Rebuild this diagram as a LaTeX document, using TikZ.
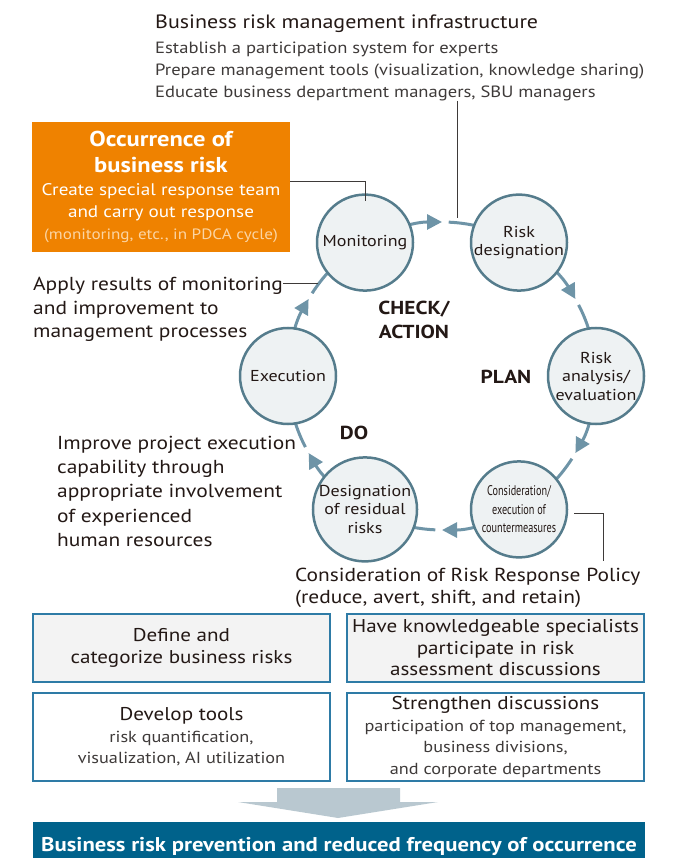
\documentclass[tikz,border=0pt]{standalone}
\usepackage{fontspec}
\setmainfont{PT Sans}[FakeStretch=1.14]
\newfontfamily\condfont[FakeStretch=0.73]{PT Sans}
\usetikzlibrary{arrows.meta,calc,backgrounds}
\definecolor{riskorange}{HTML}{EF8200}
\definecolor{palenote}{HTML}{FBD5A4}
\definecolor{ringline}{HTML}{557C8C}
\definecolor{ringfill}{HTML}{EEF2F3}
\definecolor{cycarrow}{HTML}{6E94A7}
\definecolor{inktext}{HTML}{231815}
\definecolor{subtext}{HTML}{3E3A39}
\definecolor{boxline}{HTML}{2E7BA6}
\definecolor{boxfill}{HTML}{F3F3F3}
\definecolor{blockarrow}{HTML}{B9C8D0}
\definecolor{bannerblue}{HTML}{00628B}
\newcommand{\headfont}{\bfseries\fontsize{21.5}{26}\selectfont}
\newcommand{\subfont}{\color{subtext}\fontsize{16}{21}\selectfont}
\begin{document}
\begin{tikzpicture}[x=1pt, y=1pt,
    phase/.style={circle, draw=ringline, fill=ringfill, line width=2.5pt, minimum size=96pt, inner sep=0pt, align=center, text=inktext, font=\fontsize{15.8}{18.5}\selectfont},
    cyc/.style={cycarrow, line width=3pt, -{Triangle[length=15pt,width=15pt]}},
    cycrest/.style={cycarrow, line width=3pt},
    leader/.style={subtext, line width=1pt},
    note/.style={anchor=north west, inner sep=0pt, align=left, text=inktext, font=\fontsize{18.8}{23.5}\selectfont},
    stage/.style={inner sep=0pt, align=center, text=inktext, font=\bfseries\fontsize{18.8}{23.5}\selectfont},
    measure/.style={draw=boxline, line width=1.5pt, minimum width=297pt, inner sep=0pt, align=center, text=inktext, font=\fontsize{18.5}{21.5}\selectfont}]
        \useasboundingbox (0,0) rectangle (685,-858);
    % Infrastructure heading
        \node[anchor=base west, inner sep=0pt, text=inktext, font=\fontsize{19.3}{22}\selectfont] (infra) at (155,-29) {Business risk management infrastructure};
        \node[anchor=north west, inner sep=0pt, align=left, text=subtext, font=\fontsize{16.3}{22}\selectfont] (infralist) at (155,-41.5) {Establish a participation system for experts\\Prepare management tools (visualization, knowledge sharing)\\Educate business department managers, SBU managers};
    % Occurrence box
        \node[fill=riskorange, minimum width=258pt, minimum height=130pt, inner sep=0pt, align=center, text=white, font=\fontsize{16.8}{22}\selectfont] (occ) at (161,-187) {\headfont Occurrence of\\[4pt]\headfont business risk\\[1pt]Create special response team\\and carry out response\\[0pt]\color{palenote}\fontsize{15}{20}\selectfont(monitoring, etc., in PDCA cycle)};
    % Cycle of six phases
        \coordinate (ctr) at (442,-376);
        \node[phase] (mon)   at (365,-242.6) {Monitoring};
        \node[phase] (rdes)  at (519,-242.6) {Risk\\designation};
        \node[phase] (rana)  at (596,-376)   {Risk\\analysis/\\evaluation};
        \node[phase, font=\condfont\fontsize{14}{18.5}\selectfont] (cons) at (519,-509.4) {Consideration/\\execution of\\countermeasures};
        \node[phase] (resid) at (365,-509.4) {Designation\\of residual\\risks};
        \node[phase] (exec)  at (288,-376)   {Execution};
    % Gaps in the ring, where the arrows stop
        \coordinate (h1) at ($(ctr)+(87.5:154)$);
        \coordinate (h2) at ($(ctr)+(27.5:154)$);
        \coordinate (h3) at ($(ctr)+(-32.5:154)$);
        \coordinate (h4) at ($(ctr)+(-92.5:154)$);
        \coordinate (h5) at ($(ctr)+(-152.5:154)$);
        \coordinate (h6) at ($(ctr)+(147.5:154)$);
    % Ring arrows, behind the circles
        \begin{pgfonlayer}{background}
            \draw[cyc] (mon.center) arc[start angle=120, end angle=90, radius=154];
            \draw[cycrest] (h1) arc[start angle=87.5, end angle=60, radius=154];
            \draw[cyc] (rdes.center) arc[start angle=60, end angle=30, radius=154];
            \draw[cycrest] (h2) arc[start angle=27.5, end angle=0, radius=154];
            \draw[cyc] (rana.center) arc[start angle=0, end angle=-30, radius=154];
            \draw[cycrest] (h3) arc[start angle=-32.5, end angle=-60, radius=154];
            \draw[cyc] (cons.center) arc[start angle=-60, end angle=-90, radius=154];
            \draw[cycrest] (h4) arc[start angle=-92.5, end angle=-120, radius=154];
            \draw[cyc] (resid.center) arc[start angle=-120, end angle=-150, radius=154];
            \draw[cycrest] (h5) arc[start angle=-152.5, end angle=-180, radius=154];
            \draw[cyc] (exec.center) arc[start angle=180, end angle=150, radius=154];
            \draw[cycrest] (h6) arc[start angle=147.5, end angle=120, radius=154];
        \end{pgfonlayer}
    % PDCA labels
        \node[stage] (chk)  at (414,-320) {CHECK/\\ACTION};
        \node[stage] (plan) at (506,-377) {PLAN};
        \node[stage] (do)   at (354,-433) {DO};
    % Side notes
        \node[note] (apply)   at (33,-277)  {Apply results of monitoring\\and improvement to\\management processes};
        \node[note, font=\fontsize{18.8}{24.2}\selectfont] (improve) at (57,-436)  {Improve project execution\\capability through\\appropriate involvement\\of experienced\\human resources};
        \node[note, font=\fontsize{18.8}{22}\selectfont] (policy) at (295,-568) {Consideration of Risk Response Policy\\(reduce, avert, shift, and retain)};
    % Leader lines
        \coordinate (infratap) at (457,-218);
        \draw[leader] (infralist.south -| infratap) -- (infratap);
        \coordinate (occtap) at (365,-182);
        \draw[leader] (occ.east |- occtap) -- (occtap) -- ($(mon.north)+(0,-8)$);
        \coordinate (applytap) at (318,-283);
        \draw[leader] (apply.east |- applytap) -- (applytap);
        \coordinate (constap) at (603,-513);
        \coordinate (constail) at (603,-561);
        \draw[leader] ($(cons.east)+(6,-3.6)$) -- (constap) -- (constail);
    % Measures
        \node[measure, fill=boxfill, minimum height=68pt] (defn) at (181.5,-648) {Define and\\categorize business risks};
        \node[measure, fill=boxfill, minimum height=68pt] (spec) at (495.5,-648) {Have knowledgeable specialists\\participate in risk\\assessment discussions};
        \node[measure, fill=white, minimum height=88pt] (tools) at (181.5,-737) {Develop tools\\\subfont risk quantification,\\\subfont visualization, AI utilization};
        \node[measure, fill=white, minimum height=88pt] (disc) at (495.5,-737) {Strengthen discussions\\\subfont participation of top management,\\\subfont business divisions,\\\subfont and corporate departments};
    % Result
        \fill[blockarrow] (277,-788) -- (400,-788) -- (400,-802) -- (438,-802) -- (338,-818) -- (238,-802) -- (277,-802) -- cycle;
        \node[fill=bannerblue, minimum width=612pt, minimum height=36pt, inner sep=0pt, text=white, font=\bfseries\fontsize{19.9}{22}\selectfont, text height=24pt, text depth=2pt] (goal) at (339,-840) {Business risk prevention and reduced frequency of occurrence};
\end{tikzpicture}
\end{document}
